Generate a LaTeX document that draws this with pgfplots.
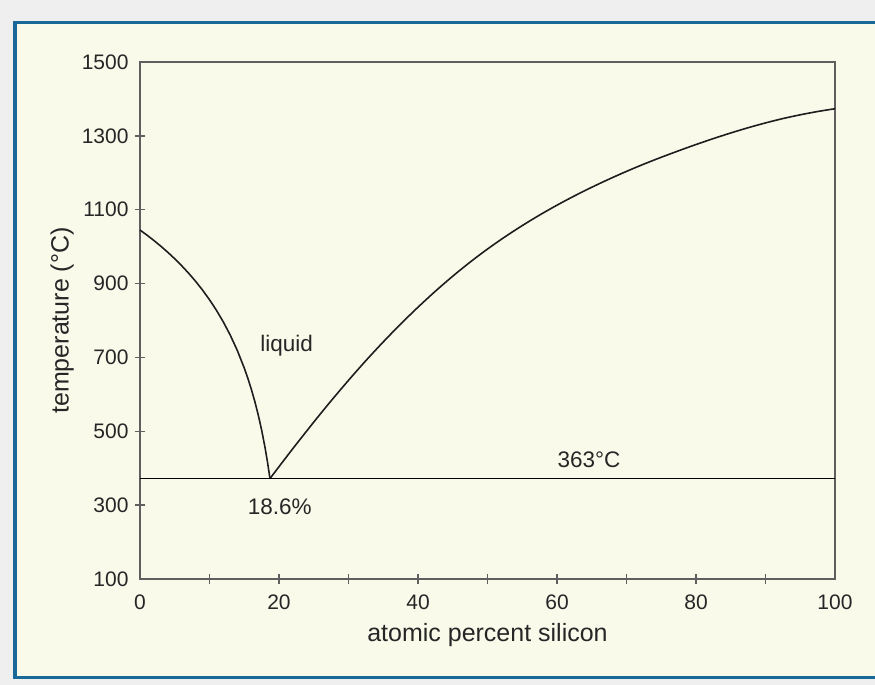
\documentclass[border=0pt]{standalone}
\usepackage{fontspec}
\setmainfont{Liberation Sans}
\usepackage{pgfplots}
\pgfplotsset{compat=1.18}
\definecolor{bggray}{RGB}{239,239,239}
\definecolor{cream}{RGB}{250,250,235}
\definecolor{frameblue}{RGB}{24,104,152}
\definecolor{axisgray}{RGB}{95,95,95}
\definecolor{curve}{RGB}{30,30,30}
\begin{document}
\begin{tikzpicture}
\useasboundingbox (0pt,0pt) rectangle (875pt,685pt);
\fill[bggray] (0pt,0pt) rectangle (875pt,685pt);
\fill[cream] (15pt,7.5pt) rectangle (875pt,662.5pt);
\draw[frameblue, line width=3.5pt] (880pt,662.5pt) -- (15pt,662.5pt) -- (15pt,7.5pt) -- (880pt,7.5pt);
\begin{axis}[
  at={(140pt,106pt)}, anchor=south west,
  scale only axis, width=695pt, height=517pt,
  xmin=0, xmax=100, ymin=100, ymax=1500,
  axis line style={draw=axisgray, line width=2pt},
  tick style={draw=axisgray, line width=1.5pt},
  tick align=center,
  tick pos=left,
  major tick length=10pt,
  xtick={10,20,...,90},
  xticklabels={,20,,40,,60,,80,},
  extra x ticks={0,100},
  extra x tick style={tick style={draw=none}},
  ytick={300,500,...,1300},
  extra y ticks={100,1500},
  extra y tick style={tick style={draw=none}},
  /pgf/number format/assume math mode=true,
  /pgf/number format/1000 sep={},
  tick label style={font=\fontsize{21}{25}\selectfont, text=black!85},
  xticklabel style={yshift=-7pt},
  yticklabel style={xshift=-3pt},
  xlabel={atomic percent silicon},
  ylabel={temperature (°C)},
  label style={font=\fontsize{25}{29}\selectfont, text=black!85},
  xlabel style={at={(axis description cs:0.5,-0.108)}, anchor=center},
  ylabel style={at={(axis description cs:-0.112,0.5)}, anchor=center},
  clip=false,
]
\addplot[curve, line width=1.6pt] coordinates {
  (0,1045) (1,1031.2) (2,1016.6) (3,1001.1) (4,984.7) (5,967.1) (6,948.2)
  (7,928.0) (8,906.1) (9,882.3) (10,856.3) (11,827.6) (12,795.7) (13,759.8)
  (14,718.9) (15,671.4) (15.5,644.5) (16,614.9) (16.5,582.1) (17,545.3)
  (17.5,503.5) (18,455.1) (18.35,416.0) (18.7,372)};
\addplot[curve, line width=1.6pt, smooth] coordinates {
  (18.7,372) (21.85,449.6) (25,524.8) (27.5,582.5) (30,638.0) (32.5,691.3)
  (35,742.0) (37.5,790.3) (40,836.0) (42.5,879.3) (45,920.0) (47.5,958.1)
  (50,993.5) (52.5,1026.4) (55,1057) (57.5,1085.6) (60,1112.3) (62.5,1137.3)
  (65,1160.8) (67.5,1182.9) (70,1203.8) (72.5,1223.5) (75,1242) (77.5,1259.6)
  (80,1276.5) (82.5,1292.6) (85,1307.8) (87.5,1322) (90,1335) (92.5,1346.8)
  (95,1357) (97.5,1365.9) (100,1373.5)};
\addplot[black, line width=1.6pt] coordinates {(0,372) (100,372)};
\node[font=\fontsize{22.5}{27}\selectfont, text=black!85] at (axis cs:21.1,732) {liquid};
\node[font=\fontsize{22.5}{27}\selectfont, text=black!85] at (axis cs:64.6,424) {363°C};
\node[font=\fontsize{22.5}{27}\selectfont, text=black!85] at (axis cs:20.1,296) {18.6\%};
\end{axis}
\end{tikzpicture}
\end{document}
